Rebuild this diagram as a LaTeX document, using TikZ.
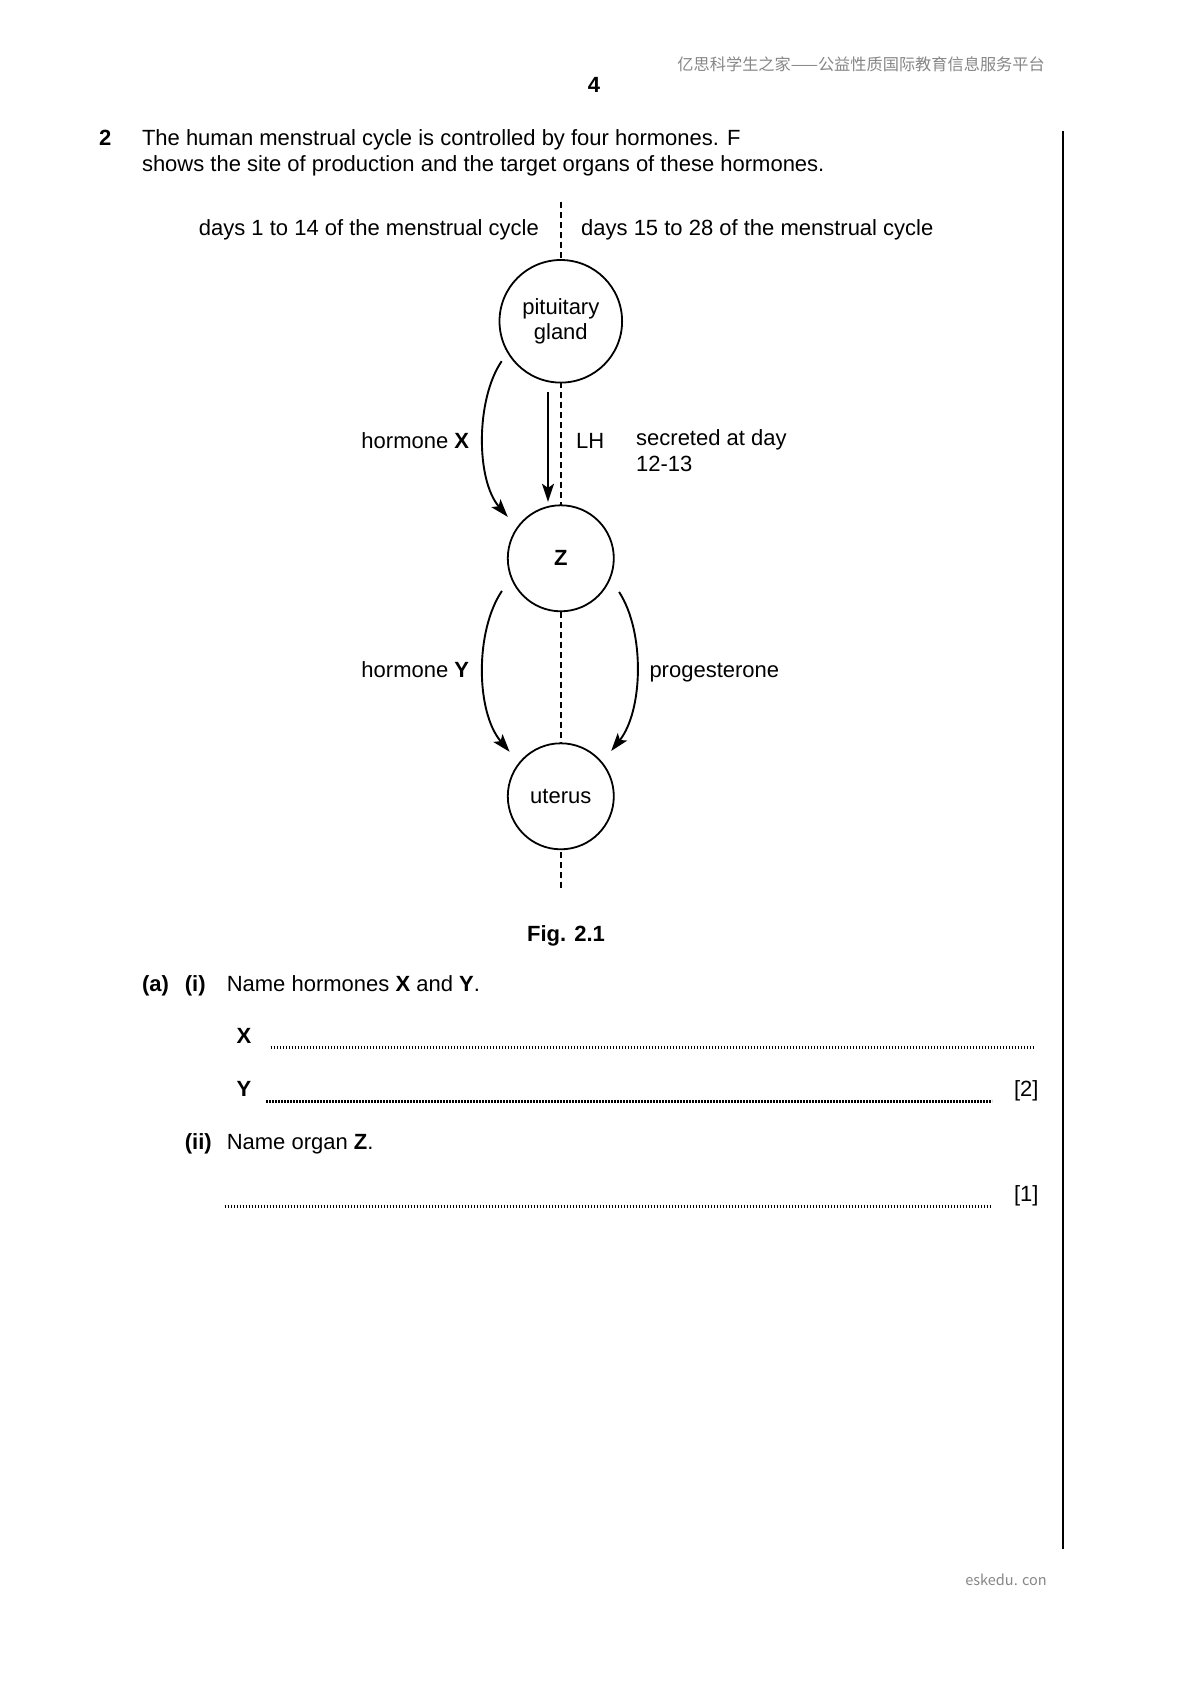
\documentclass[tikz,border=0pt]{standalone}
\usepackage{fontspec}
\setmainfont{Liberation Sans}
\newfontfamily\cjk{Noto Sans CJK SC}
\usetikzlibrary{arrows.meta,calc}
\definecolor{hdr}{RGB}{135,135,135}
\begin{document}
\begin{tikzpicture}[x=1pt,y=-1pt,
  txt/.style={inner sep=0pt,font=\fontsize{22}{26}\selectfont},
  organ/.style={circle,draw,line width=1.8pt,fill=white,inner sep=0pt,
    font=\fontsize{22}{25}\selectfont,align=center},
  arr/.style={line width=1.9pt,-{Stealth[length=18pt,width=12pt,inset=4pt]}},
  divider/.style={line width=1.7pt,dash pattern=on 6pt off 4pt},
  ans/.style={line width=3pt,dash pattern=on 1.8pt off 1.2pt}]
\path[use as bounding box,fill=white] (0,0) rectangle (1190,1684);

% header / footer
\node[inner sep=0pt,anchor=base east,text=hdr,font=\cjk\fontsize{16.2}{18}\selectfont] (hd) at (1045,70) {亿思科学生之家——公益性质国际教育信息服务平台};
\node[inner sep=0pt,anchor=base east,text=hdr,font=\cjk\fontsize{14.5}{17}\selectfont] (ft) at (1047,1585) {eskedu. con};
\node[txt,anchor=base,font=\fontsize{22}{26}\selectfont\bfseries] (pn) at (594,92.7) {4};
\draw[line width=1.8pt] (1063.3,131) -- (1063.3,1548.7);

% question stem
\node[txt,anchor=base west,font=\fontsize{22}{26}\selectfont\bfseries] (qn) at (98.8,145.4) {2};
\node[txt,anchor=base west] (l1) at (141.8,145.4) {The human menstrual cycle is controlled by four hormones. F};
\node[txt,anchor=base west] (l2) at (141.8,171) {shows the site of production and the target organs of these hormones.};

% diagram
\coordinate (dtop) at (560.8,202);
\coordinate (dbot) at (560.8,891);
\draw[divider] (dtop) -- (dbot);
\node[txt,anchor=base west] (dl) at (198.7,235.5) {days 1 to 14 of the menstrual cycle};
\node[txt,anchor=base west] (dr) at (581,235.5) {days 15 to 28 of the menstrual cycle};

\node[organ,minimum size=122.6pt,outer sep=10pt] (pg) at (560.8,321.3) {pituitary\\gland};
\node[organ,minimum size=106pt,outer sep=14.3pt,font=\fontsize{22}{25}\selectfont\bfseries] (z) at (560.8,558.3) {Z};
\node[organ,minimum size=106pt,outer sep=14.8pt] (ut) at (560.8,796.3) {uterus};

\draw[arr] (pg.214.4) .. controls +(-26,38) and +(-32,-37) .. (z.142);
\draw[arr] ($(pg.center)+(-12.8,70.5)$) -- ($(z.center)+(-12.8,-56.5)$);
\draw[arr] (z.209.2) .. controls +(-27,40) and +(-34,-40) .. (ut.139);
\draw[arr] (z.330) .. controls +(26,40) and +(32,-40) .. (ut.42);

\node[txt,anchor=base east] (hx) at (469.3,448.3) {hormone \textbf{X}};
\node[txt,anchor=base west] (lh) at (576,448.3) {LH};
\node[txt,anchor=base west] (s1) at (636,445.5) {secreted at day};
\node[txt,anchor=base west] (s2) at (636,471.7) {12-13};
\node[txt,anchor=base east] (hy) at (469.3,677.7) {hormone \textbf{Y}};
\node[txt,anchor=base west] (pr) at (649.3,677.7) {progesterone};

\node[txt,anchor=base,font=\fontsize{22}{26}\selectfont\bfseries] (fig) at (566,941) {Fig. 2.1};

% questions
\node[txt,anchor=base west,font=\fontsize{22}{26}\selectfont\bfseries] (qa) at (141.8,991.5) {(a)};
\node[txt,anchor=base west,font=\fontsize{22}{26}\selectfont\bfseries] (qi) at (184.7,991.5) {(i)};
\node[txt,anchor=base west] (qit) at (226.6,991.5) {Name hormones \textbf{X} and \textbf{Y}.};
\node[txt,anchor=base west,font=\fontsize{22}{26}\selectfont\bfseries] (ax) at (236.3,1043) {X};
\draw[ans] (270.6,1047) -- (1034.3,1047);
\node[txt,anchor=base west,font=\fontsize{22}{26}\selectfont\bfseries] (ay) at (236.3,1096) {Y};
\draw[ans] (266.4,1101) -- (992.4,1101);
\node[txt,anchor=base west] (m2) at (1013.9,1096) {[2]};
\node[txt,anchor=base west,font=\fontsize{22}{26}\selectfont\bfseries] (qii) at (184.7,1149.6) {(ii)};
\node[txt,anchor=base west] (qiit) at (226.6,1149.6) {Name organ \textbf{Z}.};
\draw[ans] (224.5,1206) -- (992.4,1206);
\node[txt,anchor=base west] (m1) at (1013.9,1201) {[1]};
\end{tikzpicture}
\end{document}
